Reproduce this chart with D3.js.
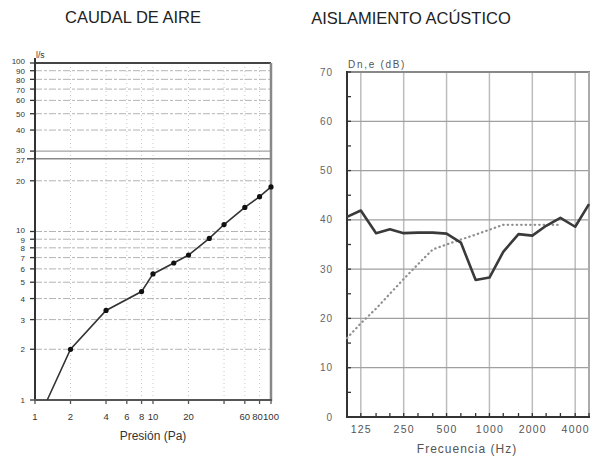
<!DOCTYPE html>
<html>
<head>
<meta charset="utf-8">
<script src="https://cdn.jsdelivr.net/npm/d3@7"></script>
<style>
  body { margin: 0; background: #fff; }
  svg { font-family: "Liberation Sans", Arial, sans-serif; }
</style>
</head>
<body>
<div id="chart"></div>
<script>
// --- caudal de aire (left) ---
const pressure = [1.27, 2, 4, 8, 10, 15, 20, 30, 40, 60, 80, 100];
const airflow = [1, 2, 3.4, 4.4, 5.6, 6.5, 7.25, 9.1, 11, 13.9, 16.1, 18.4];
const flowTicks = [1, 2, 3, 4, 5, 6, 7, 8, 9, 10, 20, 27, 30, 40, 50, 60, 70, 80, 90, 100];
const pressureTicks = [1, 2, 4, 6, 8, 10, 20, 40, 60, 80, 100];
const pressureLabels = [1, 2, 4, 6, 8, 10, 20, 60, 80, 100];

// --- aislamiento acustico (right) ---
const freqs = [100, 125, 160, 200, 250, 315, 400, 500, 630, 800, 1000, 1250, 1600, 2000, 2500, 3150, 4000, 5000];
const insulation = [40.6, 41.9, 37.3, 38.1, 37.3, 37.4, 37.4, 37.2, 35.4, 27.8, 28.3, 33.5, 37.1, 36.8, 38.8, 40.4, 38.6, 43.2];
const refFreqs = [100, 125, 160, 200, 250, 315, 400, 500, 630, 800, 1000, 1250, 1600, 2000, 2500, 3150];
const refCurve = [16, 19, 22, 25, 28, 31, 34, 35, 36, 37, 38, 39, 39, 39, 39, 39];
const freqLabels = [125, 250, 500, 1000, 2000, 4000];
const dbTicks = [0, 10, 20, 30, 40, 50, 60, 70];
const dbMinor = [5, 15, 25, 35, 45, 55, 65];

const svg = d3.select("#chart").append("svg")
    .attr("width", 596)
    .attr("height", 459);

// ================= left chart =================
let xL = d3.scaleLog().domain([1, 100]).range([35, 271]);
let yL = d3.scaleLog().domain([1, 100]).range([400, 63]);

let left = svg.append("g");

left.append("text")
    .attr("x", 133).attr("y", 23)
    .attr("text-anchor", "middle")
    .attr("font-size", 16.5)
    .attr("fill", "#222")
    .text("CAUDAL DE AIRE");

// vertical grid (dotted, faint)
left.append("g").selectAll("line")
    .data(pressureTicks.filter(d => d > 1 && d < 100)).enter()
    .append("line")
    .attr("x1", d => xL(d)).attr("x2", d => xL(d))
    .attr("y1", 63).attr("y2", 400)
    .attr("stroke", "#c8c8c8")
    .attr("stroke-width", 1)
    .attr("stroke-dasharray", "1,3");

// horizontal grid
left.append("g").selectAll("line")
    .data(flowTicks.filter(d => d > 1 && d < 100)).enter()
    .append("line")
    .attr("x1", 35).attr("x2", 271)
    .attr("y1", d => yL(d)).attr("y2", d => yL(d))
    .attr("stroke", d => (d === 27 || d === 30) ? "#8a8a8a" : "#b4b4b4")
    .attr("stroke-width", d => d === 27 ? 1.6 : 1)
    .attr("stroke-dasharray", d => (d === 27 || d === 30) ? null : "7,2,3,2");

// frame
left.append("line").attr("x1", 35).attr("x2", 271).attr("y1", 63).attr("y2", 63)
    .attr("stroke", "#444").attr("stroke-width", 2);
left.append("line").attr("x1", 271).attr("x2", 271).attr("y1", 63).attr("y2", 401)
    .attr("stroke", "#888").attr("stroke-width", 2.5);

// y axis
left.append("line").attr("x1", 35).attr("x2", 35).attr("y1", 58).attr("y2", 401)
    .attr("stroke", "#333").attr("stroke-width", 2);
left.append("g").selectAll("line")
    .data(flowTicks).enter()
    .append("line")
    .attr("x1", d => d === 27 ? 27 : 30).attr("x2", 35)
    .attr("y1", d => yL(d)).attr("y2", d => yL(d))
    .attr("stroke", "#333").attr("stroke-width", 1.3);

// crowded labels get a small nudge so they don't sit on each other
let nudge = {100: -2.5, 80: 0.5, 70: 0.5, 30: -1.5, 27: 1.5, 10: -2, 9: 0.5};
left.append("g").selectAll("text")
    .data(flowTicks).enter()
    .append("text")
    .attr("x", 25)
    .attr("y", d => yL(d) + 3 + (nudge[d] || 0))
    .attr("text-anchor", "end")
    .attr("font-size", 8)
    .attr("fill", "#333")
    .attr("font-family", "'Liberation Sans Narrow', 'Liberation Sans', Arial, sans-serif")
    .text(d => d);

left.append("text")
    .attr("x", 36).attr("y", 58)
    .attr("font-size", 8.5)
    .attr("fill", "#333")
    .text("l/s");

// x axis
left.append("line").attr("x1", 34).attr("x2", 272).attr("y1", 400).attr("y2", 400)
    .attr("stroke", "#555").attr("stroke-width", 2);
left.append("g").selectAll("line")
    .data(pressureTicks).enter()
    .append("line")
    .attr("x1", d => xL(d)).attr("x2", d => xL(d))
    .attr("y1", 400).attr("y2", 404)
    .attr("stroke", "#555").attr("stroke-width", 1.3);
left.append("g").selectAll("text")
    .data(pressureLabels).enter()
    .append("text")
    .attr("x", d => d === 80 ? xL(d) - 2 : xL(d))
    .attr("y", 420)
    .attr("text-anchor", "middle")
    .attr("font-size", 9.5)
    .attr("fill", "#333")
    .text(d => d);

left.append("text")
    .attr("x", 153).attr("y", 440)
    .attr("text-anchor", "middle")
    .attr("font-size", 12)
    .attr("fill", "#333")
    .text("Presión (Pa)");

// curve
let lineL = d3.line()
    .x((d, i) => xL(pressure[i]))
    .y(d => yL(d));

left.append("path")
    .datum(airflow)
    .attr("d", lineL)
    .attr("fill", "none")
    .attr("stroke", "#333")
    .attr("stroke-width", 1.6);

left.append("g").selectAll("circle")
    .data(airflow.slice(1)).enter()
    .append("circle")
    .attr("cx", (d, i) => xL(pressure[i + 1]))
    .attr("cy", d => yL(d))
    .attr("r", 2.6)
    .attr("fill", "#111");

// ================= right chart =================
let xR = d3.scaleLog().base(2).domain([100, 5000]).range([347, 589]);
let yR = d3.scaleLinear().domain([0, 70]).range([417, 72]);

let right = svg.append("g");

right.append("text")
    .attr("x", 411).attr("y", 24)
    .attr("text-anchor", "middle")
    .attr("font-size", 16.5)
    .attr("fill", "#222")
    .text("AISLAMIENTO ACÚSTICO");

// grid
right.append("g").selectAll("line")
    .data(freqLabels).enter()
    .append("line")
    .attr("x1", d => xR(d)).attr("x2", d => xR(d))
    .attr("y1", 72).attr("y2", 417)
    .attr("stroke", "#bdbdbd").attr("stroke-width", 1.5);
right.append("g").selectAll("line")
    .data(dbTicks.filter(d => d > 0 && d < 70)).enter()
    .append("line")
    .attr("x1", 347).attr("x2", 589)
    .attr("y1", d => yR(d)).attr("y2", d => yR(d))
    .attr("stroke", "#a0a0a0").attr("stroke-width", 1.2);

// frame
right.append("line").attr("x1", 347).attr("x2", 590).attr("y1", 72).attr("y2", 72)
    .attr("stroke", "#888").attr("stroke-width", 2);
right.append("line").attr("x1", 589).attr("x2", 589).attr("y1", 72).attr("y2", 417)
    .attr("stroke", "#aaa").attr("stroke-width", 2);
right.append("line").attr("x1", 347).attr("x2", 347).attr("y1", 71).attr("y2", 418)
    .attr("stroke", "#333").attr("stroke-width", 2);
right.append("line").attr("x1", 346).attr("x2", 590).attr("y1", 417).attr("y2", 417)
    .attr("stroke", "#333").attr("stroke-width", 2);

// ticks
right.append("g").selectAll("line")
    .data(dbTicks.concat(dbMinor)).enter()
    .append("line")
    .attr("x1", 347).attr("x2", 351)
    .attr("y1", d => yR(d)).attr("y2", d => yR(d))
    .attr("stroke", "#333").attr("stroke-width", 1.3);
right.append("g").selectAll("line")
    .data(freqs).enter()
    .append("line")
    .attr("x1", d => xR(d)).attr("x2", d => xR(d))
    .attr("y1", 417).attr("y2", 413)
    .attr("stroke", "#333").attr("stroke-width", 1.3);

right.append("g").selectAll("text")
    .data(dbTicks).enter()
    .append("text")
    .attr("x", 333)
    .attr("y", d => yR(d) + 3.5)
    .attr("text-anchor", "end")
    .attr("font-size", 10)
    .attr("letter-spacing", 1)
    .attr("fill", "#666")
    .text(d => d);

right.append("g").selectAll("text")
    .data(freqLabels).enter()
    .append("text")
    .attr("x", d => xR(d) + 0.5)
    .attr("y", 433)
    .attr("text-anchor", "middle")
    .attr("font-size", 10.5)
    .attr("letter-spacing", 1.2)
    .attr("fill", "#555")
    .text(d => d);

right.append("text")
    .attr("x", 348).attr("y", 68)
    .attr("font-size", 10)
    .attr("letter-spacing", 1.7)
    .attr("fill", "#555")
    .text("Dn,e (dB)");

right.append("text")
    .attr("x", 467).attr("y", 453)
    .attr("text-anchor", "middle")
    .attr("font-size", 12)
    .attr("letter-spacing", 1)
    .attr("fill", "#555")
    .text("Frecuencia (Hz)");

// reference curve (dotted)
right.append("path")
    .datum(refCurve)
    .attr("d", d3.line().x((d, i) => xR(refFreqs[i])).y(d => yR(d)))
    .attr("fill", "none")
    .attr("stroke", "#909090")
    .attr("stroke-width", 2.2)
    .attr("stroke-linecap", "round")
    .attr("stroke-dasharray", "0.5,4");

// measured curve
right.append("path")
    .datum(insulation)
    .attr("d", d3.line().x((d, i) => xR(freqs[i])).y(d => yR(d)))
    .attr("fill", "none")
    .attr("stroke", "#3a3a3a")
    .attr("stroke-width", 2.6)
    .attr("stroke-linejoin", "round");
</script>
</body>
</html>
